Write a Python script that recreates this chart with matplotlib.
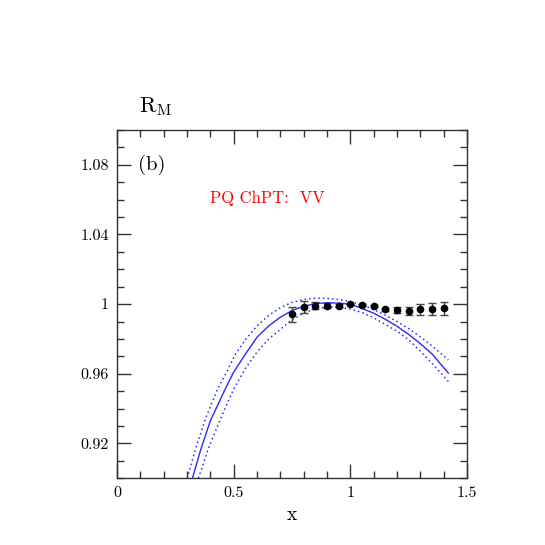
import matplotlib
matplotlib.use('Agg')
import matplotlib.pyplot as plt
from matplotlib.ticker import MultipleLocator

plt.rcParams['font.family'] = ['cmr10', 'DejaVu Serif']
plt.rcParams['mathtext.fontset'] = 'cm'
plt.rcParams['axes.formatter.use_mathtext'] = True

# lattice points
x_data = [0.75, 0.80, 0.85, 0.90, 0.95, 1.00, 1.05, 1.10, 1.15, 1.20, 1.25, 1.30, 1.35, 1.40]
r_data = [0.9943, 0.9984, 0.9992, 0.9992, 0.9990, 1.0000, 0.9996, 0.9989, 0.9971, 0.9966, 0.9961, 0.9970, 0.9973, 0.9977]
r_err = [0.0043, 0.0035, 0.0021, 0.0012, 0.0009, 0.0002, 0.0005, 0.0006, 0.0008, 0.0015, 0.0025, 0.0030, 0.0036, 0.0038]

# PQ ChPT fit, central curve
x_fit = [0.323, 0.36, 0.40, 0.463, 0.50, 0.549, 0.60, 0.65, 0.70, 0.75, 0.80, 0.85,
         0.90, 0.95, 1.00, 1.05, 1.10, 1.15, 1.20, 1.25, 1.30, 1.35, 1.42]
r_fit = [0.900, 0.917, 0.933, 0.951, 0.961, 0.971, 0.981, 0.9875, 0.9925, 0.9963, 0.9988, 1.0003,
         1.0008, 1.0006, 1.0000, 0.9975, 0.9948, 0.9913, 0.9873, 0.9826, 0.9773, 0.9714, 0.9604]

# upper error band
x_up = [0.301, 0.34, 0.38, 0.43, 0.47, 0.506, 0.55, 0.60, 0.65, 0.70, 0.75, 0.80, 0.85,
        0.90, 0.95, 1.00, 1.05, 1.10, 1.15, 1.20, 1.25, 1.30, 1.35, 1.42]
r_up = [0.900, 0.9185, 0.9345, 0.951, 0.961, 0.9709, 0.9795, 0.9875, 0.9935, 0.998, 1.0010, 1.0027, 1.0034,
        1.0033, 1.0026, 1.0015, 0.9996, 0.9969, 0.9937, 0.9900, 0.9860, 0.9812, 0.9760, 0.968]

# lower error band
x_lo = [0.349, 0.39, 0.44, 0.499, 0.55, 0.60, 0.65, 0.70, 0.75, 0.80, 0.85,
        0.90, 0.95, 1.00, 1.05, 1.10, 1.15, 1.20, 1.25, 1.30, 1.35, 1.42]
r_lo = [0.900, 0.9165, 0.933, 0.951, 0.963, 0.9725, 0.980, 0.9855, 0.9910, 0.9949, 0.9972,
        0.9984, 0.9984, 0.9972, 0.9952, 0.9922, 0.9883, 0.9845, 0.9795, 0.9730, 0.9660, 0.9556]

x_ticks = [0, 0.5, 1, 1.5]
x_ticklabels = ['0', '0.5', '1', '1.5']
y_ticks = [0.92, 0.96, 1.0, 1.04, 1.08]
y_ticklabels = ['0.92', '0.96', '1', '1.04', '1.08']

fig = plt.figure(figsize=(5.45, 5.45), dpi=100)
ax = fig.add_axes([0.2147, 0.1224, 0.6422, 0.6391])

ax.plot(x_fit, r_fit, color='#2a2aff', lw=1.0)
ax.plot(x_up, r_up, color='#2a2aff', lw=1.1, linestyle=(0, (1, 2)))
ax.plot(x_lo, r_lo, color='#2a2aff', lw=1.1, linestyle=(0, (1, 2)))
ax.errorbar(x_data, r_data, yerr=r_err, fmt='o', color='black', ecolor='#444444',
            elinewidth=1.0, capsize=3, capthick=1.0, markersize=4.5, zorder=3)

ax.set_xlim(0, 1.5)
ax.set_ylim(0.9, 1.1)
ax.set_xticks(x_ticks)
ax.set_xticklabels(x_ticklabels)
ax.set_yticks(y_ticks)
ax.set_yticklabels(y_ticklabels)
ax.xaxis.set_minor_locator(MultipleLocator(0.1))
ax.yaxis.set_minor_locator(MultipleLocator(0.01))

ax.tick_params(which='both', direction='in', top=True, right=True, colors='#333333',
               labelcolor='black', labelsize=11.5, pad=6)
ax.tick_params(which='major', length=10, width=1.0)
ax.tick_params(which='minor', length=5, width=1.0)
for s in ax.spines.values():
    s.set_color('#333333')
    s.set_linewidth(1.0)

ax.set_xlabel('x', fontsize=14, labelpad=4)
ax.text(0.09, 1.08, '(b)', fontsize=15, va='center', ha='left')
ax.text(0.40, 1.0606, 'PQ ChPT:  VV', fontsize=12, color='red', va='center', ha='left')
fig.text(0.255, 0.795, r'$\mathrm{R_{M}}$', fontsize=16)

plt.savefig('out.png', dpi=100)
